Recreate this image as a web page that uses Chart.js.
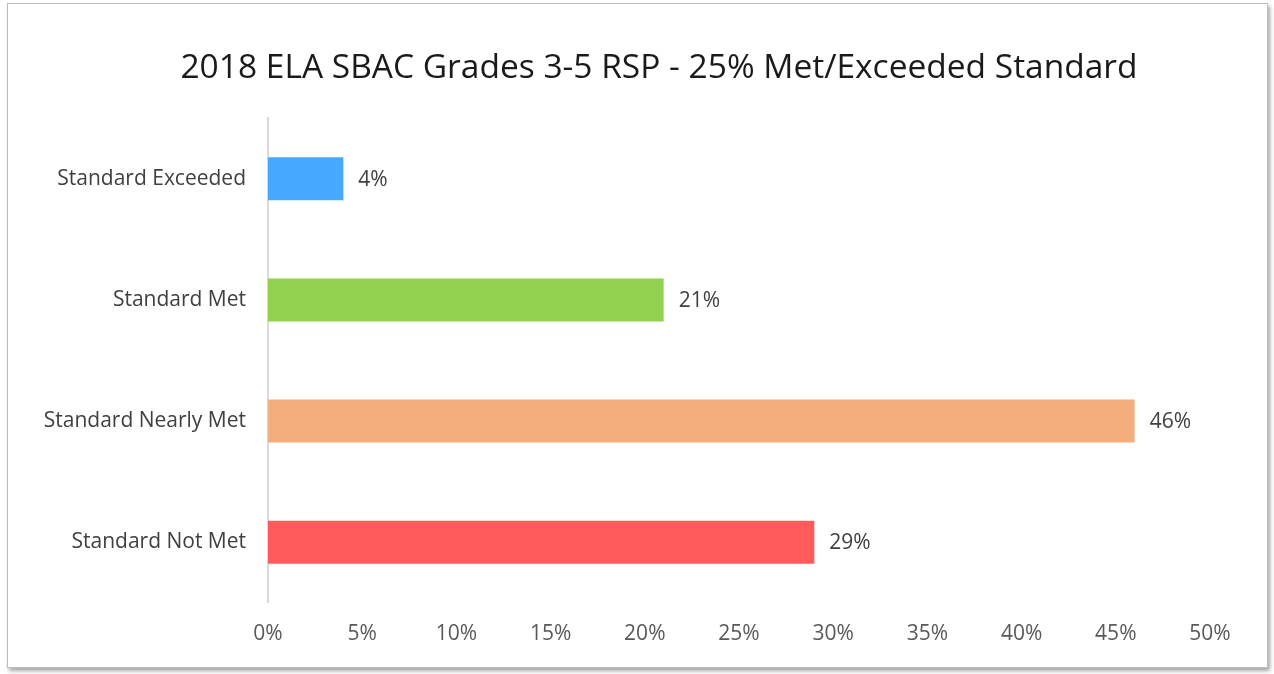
<!DOCTYPE html>
<html>
<head>
<meta charset="utf-8">
<script src="https://cdn.jsdelivr.net/npm/chart.js@4"></script>
<style>
  html, body { margin: 0; padding: 0; background: #ffffff; }
  #frame { position: absolute; left: 7px; top: 3px; width: 1259px; height: 663px;
           border: 1px solid #bdbdbd; box-shadow: 2px 3px 4px rgba(0,0,0,0.35); background: #fff; }
  #wrap { position: absolute; left: 0; top: 0; width: 1274px; height: 674px; }
</style>
</head>
<body>
<div id="frame"></div>
<div id="wrap"><canvas id="c" width="1274" height="674"></canvas></div>
<script>
const categories = ["Standard Exceeded", "Standard Met", "Standard Nearly Met", "Standard Not Met"];
const values = [4, 21, 46, 29];
const barColors = ["#45AAFF", "#92D050", "#F4AE7D", "#FF5B5B"];
const titleText = "2018 ELA SBAC Grades 3-5 RSP - 25% Met/Exceeded Standard";
const FONT = "'Open Sans', sans-serif";

const valueLabels = {
  id: 'valueLabels',
  afterDatasetsDraw(chart) {
    const ctx = chart.ctx;
    const meta = chart.getDatasetMeta(0);
    ctx.save();
    ctx.font = "21px " + FONT;
    ctx.fillStyle = "#404040";
    ctx.textAlign = "left";
    ctx.textBaseline = "middle";
    meta.data.forEach((bar, i) => {
      ctx.fillText(values[i] + "%", bar.x + 15, bar.y + 1);
    });
    ctx.restore();
  }
};

// shift the title box so that it is centred over the same span as in the reference
const titleShift = {
  id: 'titleShift',
  afterLayout(chart) {
    if (chart.titleBlock) { chart.titleBlock.left = 108; }
  }
};

new Chart(document.getElementById('c'), {
  type: 'bar',
  data: {
    labels: categories,
    datasets: [{
      data: values,
      backgroundColor: barColors,
      borderWidth: 0,
      barPercentage: 0.355,
      categoryPercentage: 1.0
    }]
  },
  options: {
    indexAxis: 'y',
    responsive: false,
    animation: false,
    layout: { padding: { left: 0, right: 64, top: 0, bottom: 8 } },
    plugins: {
      legend: { display: false },
      tooltip: { enabled: false },
      title: {
        display: true,
        text: titleText,
        color: "#1a1a1a",
        font: { family: FONT, size: 33.5, weight: 'normal' },
        padding: { top: 48, bottom: 30 }
      }
    },
    scales: {
      x: {
        min: 0, max: 50,
        ticks: { stepSize: 5, callback: v => v + "%", color: "#595959",
                 font: { family: FONT, size: 21 }, padding: 19, maxRotation: 0 },
        grid: { display: false, drawTicks: false },
        border: { display: false }
      },
      y: {
        ticks: { color: "#404040", font: { family: FONT, size: 21 }, padding: 22 },
        grid: { display: false, drawTicks: false },
        border: { display: true, color: "#d9d9d9", width: 2 },
        afterFit(scale) { scale.width = 268; }
      }
    }
  },
  plugins: [valueLabels, titleShift]
});
</script>
</body>
</html>
